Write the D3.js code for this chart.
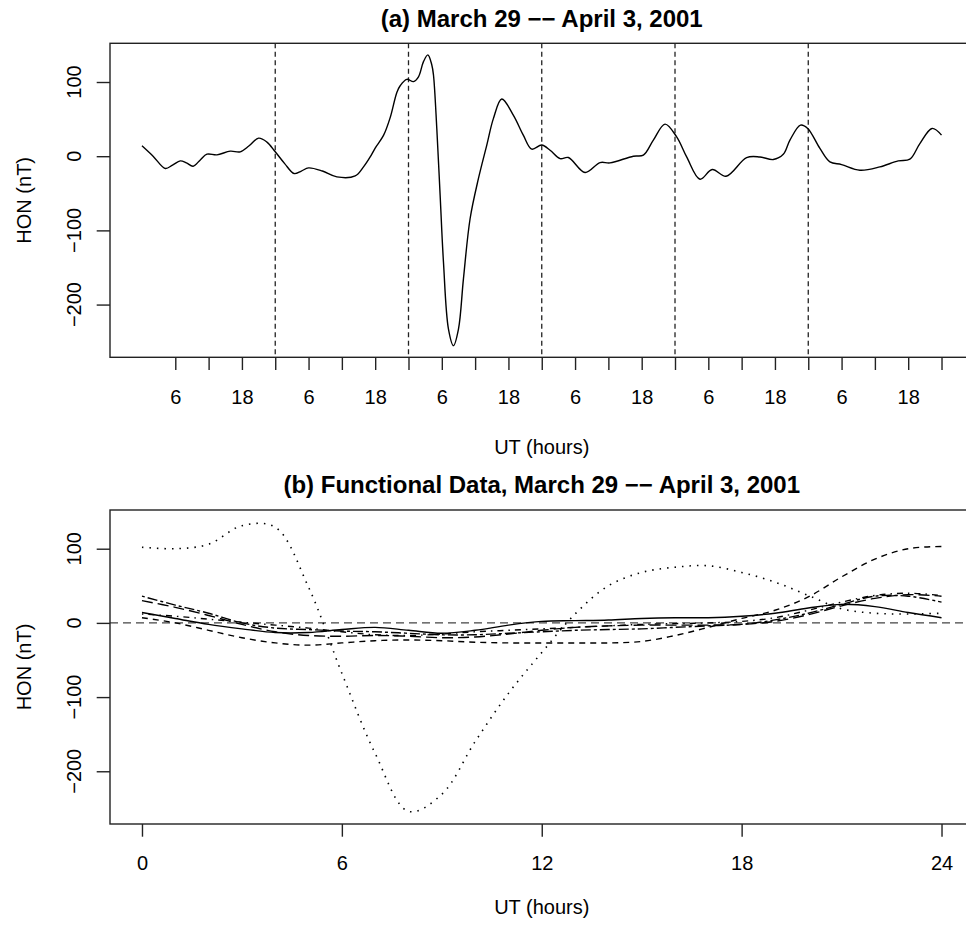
<!DOCTYPE html>
<html>
<head>
<meta charset="utf-8">
<script src="https://cdn.jsdelivr.net/npm/d3@7"></script>
<style>
  html, body { margin: 0; padding: 0; background: #fff; }
  svg text { font-family: "Liberation Sans", Arial, Helvetica, sans-serif; fill: #000; }
</style>
</head>
<body>
<div id="plot"></div>
<script>
const w = 966;
const h = 928;

// (a) the full 6-day record, hours since March 29 00 UT
const topHours = [0, 2, 4.2, 5.5, 6.9, 8, 9.2, 10.5, 11.7, 13.5, 15.9, 17.7, 19.3, 21, 22.5, 24,
  25.7, 27.4, 28.7, 30, 32.5, 35.1, 38.4, 39.9, 41.1, 42, 43.5, 44.7, 45.9, 46.5, 47.7,
  48.9, 49.8, 50.7, 51.5, 52.2, 52.5, 53.1, 53.7, 54.3, 55.2, 56.1, 57, 57.9, 59.1, 60.6,
  62.1, 63.3, 64.8, 66.9, 68.7, 70.2, 72, 73.5, 75.3, 76.8,
  79.8, 82.5, 84.3, 88.5, 90.3, 92.1, 94.2, 96.3, 98.1, 100.5, 102.7, 105.2, 108.9, 111.3,
  113.7, 115.5, 116.7, 118.6, 119.9, 122.1, 123.9, 126, 129.3, 132.9, 136.2, 138.3, 140.1,
  142.3, 144];
const topHON = [14, 0, -16.5, -12, -6.3, -9, -13.5, -5, 2.7, 1.8, 6.8, 5.9, 14, 24.3, 19, 5.9,
  -10, -23.4, -20, -15.8, -20, -27.9, -26.6, -14.4, -1, 11, 28, 52, 86, 95, 103.6,
  100.5, 107, 127.5, 136.5, 123, 109.5, 37, -53, -143, -233, -255.4, -233, -165, -84, -30,
  15, 51, 77, 55, 28, 9.5, 15, 8, -3.2, -1.8,
  -22, -8.6, -9, 0, 1.4, 21.6, 43.2, 26, -1, -31, -18, -27, -1.8, -1,
  -4.5, 2.5, 21.6, 41.9, 37.4, 10.4, -7.7, -11.3, -18.9, -14.4, -6.3, -4, 17,
  37.4, 28.4];
const dayBreaks = [24, 48, 72, 96, 120];
const topTicks = [6, 12, 18, 24, 30, 36, 42, 48, 54, 60, 66, 72, 78, 84, 90, 96, 102, 108, 114, 120, 126, 132, 138, 144];
const topTickLabels = ["6", "", "18", "", "6", "", "18", "", "6", "", "18", "", "6", "", "18", "", "6", "", "18", "", "6", "", "18", ""];

// (b) smoothed daily curves on an hourly grid
const fdHours = [0, 1, 2, 3, 4, 5, 6, 7, 8, 9, 10, 11, 12, 13, 14, 15, 16, 17, 18, 19, 20, 21, 22, 23, 24];
const fdMar29 = [14, 6, -2, -8, -13, -13, -9, -6, -10, -14, -10, -3, 2, 3, 4, 6, 7, 7, 9, 13, 20, 25, 22, 14, 7];
const fdMar30 = [7, 0, -10, -20, -27, -30, -27, -24, -23, -24, -26, -27, -27, -27, -27, -25, -17, -6, 6, 17, 35, 62, 86, 100, 103];
const fdMar31 = [102, 100, 106, 131, 129, 48, -68, -176, -254, -231, -160, -95, -40, 12, 50, 68, 75, 77, 68, 55, 37, 19, 13, 12, 13];
const fdApr1 = [12, 9, 5, 1, -3, -7, -12, -16, -17, -15, -12, -10, -8, -6, -4, -2, -1, 0, 2, 7, 17, 28, 37, 40, 37];
const fdApr2 = [30, 21, 10, -2, -12, -17, -18, -17, -18, -20, -19, -15, -10, -6, -4, -3, -3, -3, -2, 2, 11, 23, 33, 38, 36];
const fdApr3 = [36, 24, 13, 0, -7, -9, -11, -12, -14, -16, -16, -14, -12, -10, -9, -8, -6, -4, -2, 4, 13, 25, 36, 36, 28];
const fdSeries = [fdMar29, fdMar30, fdMar31, fdApr1, fdApr2, fdApr3];
const fdDash = [null, "6,5", "1.5,6", "1.5,5,6,5", "11,5", "3,3,10,3"]; // R lty 1:6
const bottomTicks = [0, 6, 12, 18, 24];
const yTicks = [-200, -100, 0, 100];

// R style 4% padding
function pad(ext) {
  const d = (ext[1] - ext[0]) * 0.04;
  return [ext[0] - d, ext[1] + d];
}

const yDomain = pad(d3.extent(topHON));
const left = 110, right = 973.5;

const svg = d3.select("#plot").append("svg")
  .attr("width", w)
  .attr("height", h);

function yAxisLabels(g, yScale) {
  g.selectAll(".ylab")
    .data(yTicks)
    .enter()
    .append("text")
    .attr("class", "ylab")
    .attr("transform", d => `translate(81, ${yScale(d)}) rotate(-90)`)
    .attr("text-anchor", "middle")
    .attr("font-size", "20px")
    .text(d => d < 0 ? "\u2212" + Math.abs(d) : d);
}

function frame(g, top, bottom) {
  g.append("rect")
    .attr("x", left)
    .attr("y", top)
    .attr("width", right - left)
    .attr("height", bottom - top)
    .attr("fill", "none")
    .attr("stroke", "#222")
    .attr("stroke-width", 1.4);
}

function styleAxis(g) {
  g.select(".domain").remove();
  g.selectAll(".tick line").attr("stroke", "#222").attr("stroke-width", 1.4);
  g.selectAll(".tick text")
    .attr("font-size", "20px")
    .attr("font-family", "Liberation Sans, Arial, sans-serif");
}

// ---------- panel (a)
const topY0 = 43.3, topY1 = 357.3;
const xTop = d3.scaleLinear().domain(pad([0, 144])).range([left, right]);
const yTop = d3.scaleLinear().domain(yDomain).range([topY1, topY0]);

const gA = svg.append("g");

gA.selectAll(".daybreak")
  .data(dayBreaks)
  .enter()
  .append("line")
  .attr("class", "daybreak")
  .attr("x1", d => xTop(d))
  .attr("x2", d => xTop(d))
  .attr("y1", topY0)
  .attr("y2", topY1)
  .attr("stroke", "#222")
  .attr("stroke-width", 1.3)
  .attr("stroke-dasharray", "5,3.5");

const lineTop = d3.line()
  .x((d, i) => xTop(topHours[i]))
  .y(d => yTop(d))
  .curve(d3.curveCatmullRom.alpha(0.5));

gA.append("path")
  .datum(topHON)
  .attr("d", lineTop)
  .attr("fill", "none")
  .attr("stroke", "#000")
  .attr("stroke-width", 1.4);

frame(gA, topY0, topY1);

gA.append("g")
  .attr("transform", `translate(0, ${topY1})`)
  .call(d3.axisBottom(xTop)
    .tickValues(topTicks)
    .tickFormat((d, i) => topTickLabels[i])
    .tickSize(12.7)
    .tickPadding(19.5))
  .call(styleAxis);

gA.append("g")
  .attr("transform", `translate(${left}, 0)`)
  .call(d3.axisLeft(yTop).tickValues(yTicks).tickFormat("").tickSize(13.3))
  .call(styleAxis);
yAxisLabels(gA, yTop);

gA.append("text")
  .attr("x", (left + right) / 2)
  .attr("y", 26.5)
  .attr("text-anchor", "middle")
  .attr("font-size", "24px")
  .attr("font-weight", "bold")
  .text("(a) March 29 \u2212\u2212 April 3, 2001");

gA.append("text")
  .attr("x", (left + right) / 2)
  .attr("y", 453.5)
  .attr("text-anchor", "middle")
  .attr("font-size", "20px")
  .text("UT (hours)");

gA.append("text")
  .attr("transform", `translate(31, ${(topY0 + topY1) / 2}) rotate(-90)`)
  .attr("text-anchor", "middle")
  .attr("font-size", "20px")
  .text("HON (nT)");

// ---------- panel (b)
const botY0 = 510, botY1 = 824;
const xBot = d3.scaleLinear().domain(pad([0, 24])).range([left, right]);
const yBot = d3.scaleLinear().domain(yDomain).range([botY1, botY0]);

const gB = svg.append("g");

gB.append("line")
  .attr("x1", left)
  .attr("x2", w)
  .attr("y1", yBot(0))
  .attr("y2", yBot(0))
  .attr("stroke", "#444")
  .attr("stroke-width", 1.3)
  .attr("stroke-dasharray", "8,5");

const lineBot = d3.line()
  .x((d, i) => xBot(fdHours[i]))
  .y(d => yBot(d))
  .curve(d3.curveCatmullRom.alpha(0.5));

gB.selectAll(".fd")
  .data(fdSeries)
  .enter()
  .append("path")
  .attr("class", "fd")
  .attr("d", lineBot)
  .attr("fill", "none")
  .attr("stroke", "#000")
  .attr("stroke-width", (d, i) => i === 2 ? 1.6 : 1.4)
  .attr("stroke-dasharray", (d, i) => fdDash[i]);

frame(gB, botY0, botY1);

gB.append("g")
  .attr("transform", `translate(0, ${botY1})`)
  .call(d3.axisBottom(xBot)
    .tickValues(bottomTicks)
    .tickFormat(d3.format("d"))
    .tickSize(12.7)
    .tickPadding(19.5))
  .call(styleAxis);

gB.append("g")
  .attr("transform", `translate(${left}, 0)`)
  .call(d3.axisLeft(yBot).tickValues(yTicks).tickFormat("").tickSize(13.3))
  .call(styleAxis);
yAxisLabels(gB, yBot);

gB.append("text")
  .attr("x", (left + right) / 2)
  .attr("y", 493)
  .attr("text-anchor", "middle")
  .attr("font-size", "24px")
  .attr("font-weight", "bold")
  .text("(b) Functional Data, March 29 \u2212\u2212 April 3, 2001");

gB.append("text")
  .attr("x", (left + right) / 2)
  .attr("y", 914)
  .attr("text-anchor", "middle")
  .attr("font-size", "20px")
  .text("UT (hours)");

gB.append("text")
  .attr("transform", `translate(31, ${(botY0 + botY1) / 2}) rotate(-90)`)
  .attr("text-anchor", "middle")
  .attr("font-size", "20px")
  .text("HON (nT)");
</script>
</body>
</html>
